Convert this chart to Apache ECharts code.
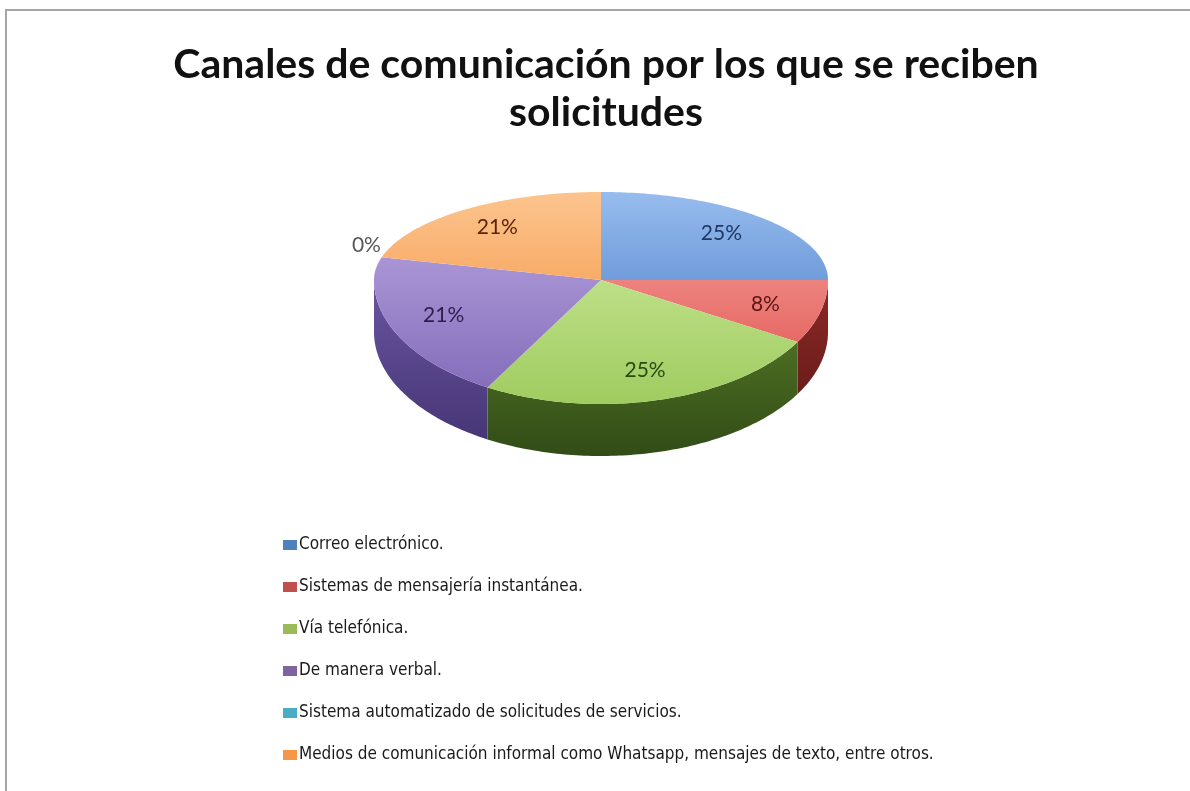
<!DOCTYPE html>
<html>
<head>
<meta charset="utf-8">
<script src="https://cdn.jsdelivr.net/npm/echarts@6/dist/echarts.min.js"></script>
<style>
  html, body { margin: 0; padding: 0; background: #ffffff; }
  #chart { position: absolute; left: 0; top: 0; width: 1190px; height: 791px; }
  #frameTop { position: absolute; left: 5px; top: 9px; width: 1185px; height: 2px; background: #a6a6a6; }
  #frameLeft { position: absolute; left: 5px; top: 9px; width: 2px; height: 782px; background: #a6a6a6; }
</style>
</head>
<body>
<div id="chart"></div>
<div id="frameTop"></div>
<div id="frameLeft"></div>
<script>
// ---- data ----
const titleText = 'Canales de comunicación por los que se reciben\nsolicitudes';
const categories = [
  'Correo electrónico.',
  'Sistemas de mensajería instantánea.',
  'Vía telefónica.',
  'De manera verbal.',
  'Sistema automatizado de solicitudes de servicios.',
  'Medios de comunicación informal como Whatsapp, mensajes de texto, entre otros.'
];
const values = [6, 2, 6, 5, 0, 5];

// ---- styles ----
const baseColors = ['#4f81bd', '#c0504d', '#9bbb59', '#8064a2', '#4bacc6', '#f79646'];
const topColors = [
  ['#97bcee', '#3a70c0'],
  ['#f7a8a4', '#df4f4a'],
  ['#d3eda3', '#9fcc60'],
  ['#bba9e2', '#8169b8'],
  ['#8fd3e6', '#3aa0bd'],
  ['#fcc48e', '#f28a33']
];
const sideColors = [
  ['#3d67a8', '#26467a'],
  ['#8e2a27', '#561514'],
  ['#5a8028', '#324c17'],
  ['#6a55a0', '#433372'],
  ['#2f8aa3', '#1d5f72'],
  ['#c4702a', '#8a4a16']
];
const labelColors = ['#1f3864', '#5c1515', '#2b4a10', '#2a1f4e', '#595959', '#5a230c'];

const CX = 601, CY = 280, RX = 227, RYB = 88, RYF = 124, DEPTH = 52;
const total = values.reduce((a, b) => a + b, 0);
const starts = [];
values.reduce((acc, v, i) => { starts[i] = acc; return acc + v; }, 0);

function pt(t, dy, f) {
  f = f || 1;
  const c = Math.cos(t), s = Math.sin(t);
  const ry = c >= 0 ? RYB : RYF;
  return [CX + RX * f * s, CY - ry * f * c + (dy || 0)];
}
function arc(t1, t2, dy) {
  const n = Math.max(2, Math.ceil((t2 - t1) / (Math.PI / 180)));
  const out = [];
  for (let k = 0; k <= n; k++) out.push(pt(t1 + (t2 - t1) * k / n, dy));
  return out;
}
function grad(x1, y1, x2, y2, c) {
  return new echarts.graphic.LinearGradient(x1, y1, x2, y2,
    [{ offset: 0, color: c[0] }, { offset: 1, color: c[1] }], true);
}

function makeRender(i) {
  return function (params, api) {
    const v = api.value(0);
    const t1 = starts[i] / total * Math.PI * 2;
    const t2 = (starts[i] + v) / total * Math.PI * 2;
    const pct = Math.round(v / total * 100) + '%';
    const children = [];
    const mid = (t1 + t2) / 2;
    if (v > 0) {
      const a = Math.max(t1, Math.PI / 2), b = Math.min(t2, Math.PI * 1.5);
      if (b > a) {
        const pts = arc(a, b, 0).concat(arc(a, b, DEPTH).reverse());
        children.push({
          type: 'polygon', shape: { points: pts }, z2: 1,
          style: { fill: grad(0, CY, 0, CY + RYF + DEPTH, sideColors[i]) }
        });
      }
      const top = [[CX, CY]].concat(arc(t1, t2, 0));
      children.push({
        type: 'polygon', shape: { points: top }, z2: 5,
        style: { fill: grad(0, CY - RYB, 0, CY + RYF, topColors[i]) }
      });
      const lp = pt(mid, 0, 0.75);
      children.push({
        type: 'text', x: lp[0], y: lp[1], z2: 20,
        style: { text: pct, fill: labelColors[i], font: '21px Lato', align: 'center', verticalAlign: 'middle' }
      });
    } else {
      const lp = pt(mid, 0, 1.07);
      children.push({
        type: 'text', x: lp[0], y: lp[1], z2: 20,
        style: { text: pct, fill: labelColors[i], font: '21px Lato', align: 'center', verticalAlign: 'bottom' }
      });
    }
    return { type: 'group', children: children };
  };
}

const chart = echarts.init(document.getElementById('chart'), null, { renderer: 'canvas' });
const series = categories.map((name, i) => ({
  type: 'custom',
  name: name,
  coordinateSystem: 'none',
  itemStyle: { color: baseColors[i] },
  data: [[values[i]]],
  renderItem: makeRender(i),
  animation: false,
  silent: true
}));

chart.setOption({
  backgroundColor: '#ffffff',
  animation: false,
  title: {
    text: titleText,
    left: 601, top: 36, textAlign: 'center',
    textStyle: { fontFamily: 'Lato', fontWeight: 'bold', fontSize: 41, lineHeight: 48, color: '#111111' }
  },
  legend: {
    orient: 'vertical',
    left: 278, top: 530,
    itemWidth: 14, itemHeight: 10, itemGap: 22,
    icon: 'rect',
    data: categories,
    textStyle: { fontFamily: '"Liberation Sans Narrow", "DejaVu Sans Condensed", sans-serif', fontSize: 17, lineHeight: 20, color: '#1a1a1a', padding: [0, 0, 0, -3] },
    selectedMode: false
  },
  series: series
});
</script>
</body>
</html>
